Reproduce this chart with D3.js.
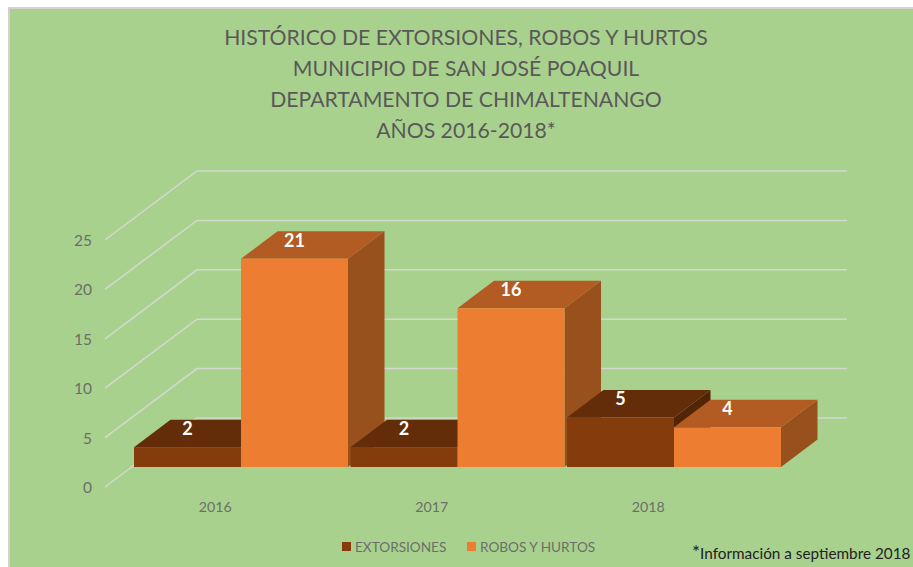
<!DOCTYPE html>
<html lang="es">
<head>
	<meta charset="UTF-8">
	<title>Histórico de extorsiones, robos y hurtos</title>
	<script src="https://cdnjs.cloudflare.com/ajax/libs/d3/7.8.5/d3.min.js"></script>
	<style>
		html, body { margin: 0; padding: 0; background: #fff; }
		svg { display: block; font-family: Lato, "Open Sans", sans-serif; }
	</style>
</head>
<body>
	<div id="chart"></div>
<script>
var titleLines = [
	"HISTÓRICO  DE EXTORSIONES, ROBOS Y HURTOS",
	"MUNICIPIO DE SAN JOSÉ POAQUIL",
	"DEPARTAMENTO DE CHIMALTENANGO",
	"AÑOS 2016-2018*"
];
var years = ["2016", "2017", "2018"];
var seriesNames = ["EXTORSIONES", "ROBOS Y HURTOS"];
var extorsiones = [2, 2, 5];
var robosHurtos = [21, 16, 4];
var yTicks = [0, 5, 10, 15, 20, 25];
var footnote = "Información a septiembre 2018";

var width = 913, height = 567;

// colores: frente, tapa, lado
var colors = [
	{front: "#843c0c", top: "#632d09", side: "#522507"},
	{front: "#ed7d31", top: "#b25b22", side: "#98501d"}
];

var svg = d3.select("#chart").append("svg")
	.attr("width", width)
	.attr("height", height);

// fondo
svg.append("rect")
	.attr("x", 9).attr("y", 8)
	.attr("width", width).attr("height", height)
	.attr("fill", "#a9d18e")
	.attr("stroke", "#d2d2d2")
	.attr("stroke-width", 2);

// titulo
svg.append("g").selectAll("text")
	.data(titleLines)
	.enter().append("text")
	.attr("x", 466)
	.attr("y", function(d, i){ return 45 + i * 31; })
	.attr("text-anchor", "middle")
	.attr("font-size", 21.2)
	.attr("fill", "#595959")
	.text(function(d){ return d; });

// escalas
var yFront = d3.scaleLinear().domain([0, 25]).range([487, 240]); // eje de adelante
var yBars = d3.scaleLinear().domain([0, 25]).range([467, 219]);  // frente de las barras
var xBand = d3.scaleBand().domain(years).range([134, 783.5]);
var xSeries = d3.scaleBand().domain(seriesNames).range([0, 214]);

// perspectiva
var wallDx = 92, wallDy = -69, wallRight = 847;
var barDx = 36.5, barDy = -27.5;

// lineas de la cuadricula
var grid = d3.line();
svg.append("g").selectAll("path")
	.data(yTicks)
	.enter().append("path")
	.attr("d", function(t){
		var y = yFront(t);
		return grid([[105, y], [105 + wallDx, y + wallDy], [wallRight, y + wallDy]]);
	})
	.attr("fill", "none")
	.attr("stroke", "#d4d8cf")
	.attr("stroke-width", 1.5);

// eje y, solo etiquetas
var yAxis = d3.axisLeft(yFront).tickValues(yTicks).tickSize(0).tickPadding(0);
var yG = svg.append("g").attr("transform", "translate(92,4)").call(yAxis);
yG.select(".domain").remove();
yG.selectAll("text")
	.attr("font-family", "Lato, sans-serif")
	.attr("font-size", 15.5)
	.attr("fill", "#6b6f69")
	.attr("dy", "0.1em");

// barras, de izquierda a derecha para que se tapen bien
var bars = [];
years.forEach(function(year, i){
	bars.push({year: year, s: 0, v: extorsiones[i]});
	bars.push({year: year, s: 1, v: robosHurtos[i]});
});

var barG = svg.append("g").selectAll("g")
	.data(bars)
	.enter().append("g");

barG.each(function(d){
	var g = d3.select(this);
	var x0 = xBand(d.year) + xSeries(seriesNames[d.s]);
	var x1 = x0 + xSeries.bandwidth();
	var y0 = yBars(0), y1 = yBars(d.v);
	var c = colors[d.s];
	// lado
	g.append("path")
		.attr("d", grid([[x1, y1], [x1 + barDx, y1 + barDy], [x1 + barDx, y0 + barDy], [x1, y0]]) + "Z")
		.attr("fill", c.side);
	// tapa
	g.append("path")
		.attr("d", grid([[x0, y1], [x0 + barDx, y1 + barDy], [x1 + barDx, y1 + barDy], [x1, y1]]) + "Z")
		.attr("fill", c.top);
	// frente
	g.append("rect")
		.attr("x", x0).attr("y", y1)
		.attr("width", x1 - x0).attr("height", y0 - y1)
		.attr("fill", c.front);
});

// etiquetas de datos
svg.append("g").selectAll("text")
	.data(bars)
	.enter().append("text")
	.attr("x", function(d){ return xBand(d.year) + xSeries(seriesNames[d.s]) + xSeries.bandwidth() / 2; })
	.attr("y", function(d){ return yBars(d.v) - 12; })
	.attr("text-anchor", "middle")
	.attr("font-size", 18)
	.attr("font-weight", 700)
	.attr("fill", "#fff")
	.text(function(d){ return d.v; });

// etiquetas del eje x
svg.append("g").selectAll("text")
	.data(years)
	.enter().append("text")
	.attr("x", function(d){ return xBand(d) + xBand.bandwidth() / 2 - 27; })
	.attr("y", 512)
	.attr("text-anchor", "middle")
	.attr("font-size", 14.2)
	.attr("fill", "#6b6f69")
	.text(function(d){ return d; });

// leyenda
var legendX = [342, 467];
var legend = svg.append("g").selectAll("g")
	.data(seriesNames)
	.enter().append("g")
	.attr("transform", function(d, i){ return "translate(" + legendX[i] + ",542)"; });
legend.append("rect")
	.attr("width", 9).attr("height", 9)
	.attr("fill", function(d, i){ return colors[i].front; });
legend.append("text")
	.attr("x", 13)
	.attr("y", 10)
	.attr("font-size", 13.6)
	.attr("fill", "#6b6f69")
	.text(function(d){ return d; });

// nota al pie
var note = svg.append("text")
	.attr("x", 692)
	.attr("y", 559)
	.attr("fill", "#222")
	.attr("font-size", 15.3);
note.append("tspan").attr("font-size", 19).text("*");
note.append("tspan").text(footnote);
</script>
</body>
</html>
